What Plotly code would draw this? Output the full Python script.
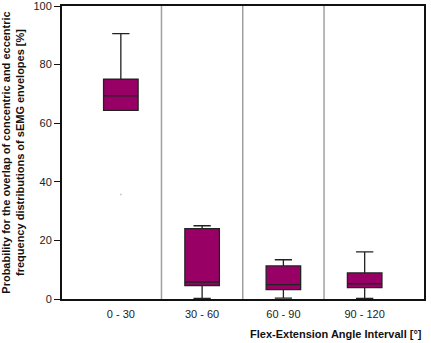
import plotly.graph_objects as go

categories = ["0 - 30", "30 - 60", "60 - 90", "90 - 120"]
q1 = [64.4, 4.6, 3.2, 3.9]
median = [69.3, 5.8, 4.9, 5.2]
q3 = [75.0, 24.0, 11.3, 8.9]
lower_whisker = [64.4, 0.2, 0.3, 0.2]
upper_whisker = [90.6, 25.0, 13.4, 16.1]
outlier_cat = [0]
outlier_val = [35.7]
y_ticks = [0, 20, 40, 60, 80, 100]

xpos = list(range(len(categories)))
font = "Liberation Sans, Arial, sans-serif"

fig = go.Figure()
fig.add_trace(go.Box(
    x=xpos, q1=q1, median=median, q3=q3,
    lowerfence=lower_whisker, upperfence=upper_whisker,
    fillcolor="#990066", line=dict(color="#222222", width=1.3),
    width=0.425, whiskerwidth=0.5, boxpoints=False, showlegend=False,
))
fig.add_trace(go.Scatter(
    x=outlier_cat, y=outlier_val, mode="markers",
    marker=dict(size=2, color="#cccccc"), showlegend=False,
))

for i in range(len(categories) - 1):
    fig.add_shape(type="line", xref="x", yref="paper", x0=i + 0.5, x1=i + 0.5,
                  y0=0, y1=1, line=dict(color="#a0a0a0", width=1.5), layer="below")

fig.add_annotation(text="<b>Flex-Extension Angle Intervall [°]</b>", xref="paper", yref="paper",
                   x=1.0, y=-0.093, xanchor="right", yanchor="top", showarrow=False,
                   font=dict(family=font, size=11, color="#111111"))

fig.update_layout(
    width=431, height=343,
    margin=dict(l=62, r=7, t=6, b=44),
    paper_bgcolor="white", plot_bgcolor="white",
    font=dict(family=font, size=11, color="#222222"),
    xaxis=dict(
        range=[-0.724, 3.73], tickvals=xpos, ticktext=categories,
        showgrid=False, zeroline=False, showline=True, linecolor="#111111", linewidth=2,
        mirror=True, ticks="", ticklen=0, ticklabelstandoff=4, automargin=False,
    ),
    yaxis=dict(
        range=[0, 100], tickvals=y_ticks, showgrid=False, zeroline=False,
        showline=True, linecolor="#111111", linewidth=2, mirror=True,
        ticks="outside", ticklen=6, tickcolor="#111111", automargin=False,
        ticklabeloverflow="allow",
        title=dict(text="<b>Probability for the overlap of concentric and eccentric<br>frequency distributions of sEMG envelopes [%]</b>",
                   font=dict(family=font, size=11, color="#111111"), standoff=8),
    ),
)

fig.write_html("out.html", config={"displayModeBar": False},
               post_script="document.body.style.margin='0';")
